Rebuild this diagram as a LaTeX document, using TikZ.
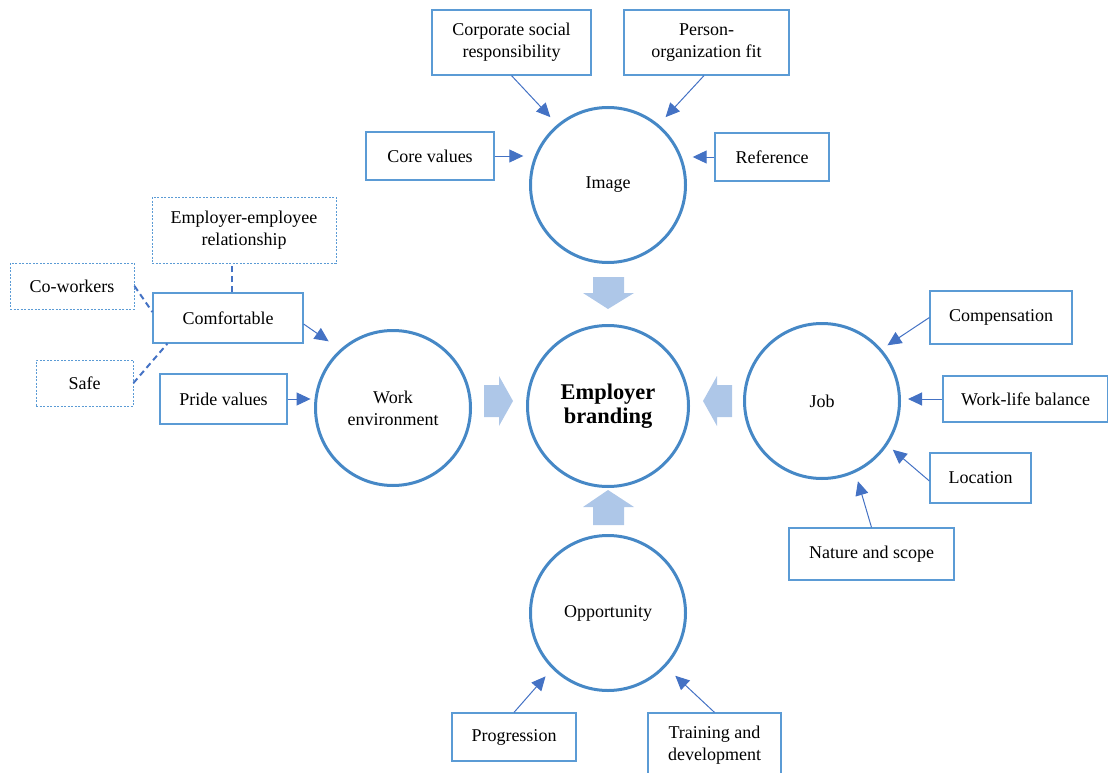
\documentclass[tikz,border=0pt]{standalone}
\usepackage{fontspec}
\setmainfont{Liberation Serif}
\usetikzlibrary{arrows.meta}
\definecolor{circ}{RGB}{70,136,198}
\definecolor{boxc}{RGB}{91,155,213}
\definecolor{arrc}{RGB}{68,114,196}
\definecolor{blk}{RGB}{174,199,232}
\tikzset{
  every node/.style={font=\fontsize{18}{22}\selectfont},
  box/.style={draw=boxc, line width=1.2pt, rectangle, inner sep=0pt, align=center},
  dbox/.style={box, line width=0.9pt, dash pattern=on 2pt off 1.5pt},
  bigc/.style={draw=circ, line width=3pt, circle, inner sep=0pt, minimum size=155pt, align=center},
  arr/.style={draw=arrc, line width=1pt, -{Triangle[length=14pt,width=13pt]}},
  dline/.style={draw=arrc, line width=2pt, dash pattern=on 6pt off 4pt},
  blkarrow/.style={fill=blk, draw=none}
}
\begin{document}
\begin{tikzpicture}[x=1pt,y=-1pt]
\useasboundingbox (0,0) rectangle (1108,773);
% circles
\node[bigc] (img) at (608,185) {Image};
\node[bigc, minimum size=161pt, font=\bfseries\fontsize{22.4}{23.5}\selectfont] (eb) at (608,406) {Employer\\branding};
\node[bigc] (we) at (393,408) {Work\\environment};
\node[bigc] (job) at (822,401) {Job};
\node[bigc] (opp) at (608,613) {Opportunity};
% boxes
\node[box, minimum width=159pt, minimum height=65pt] (corp) at (511.5,42.5) {Corporate social\\responsibility};
\node[box, minimum width=165pt, minimum height=65pt] (pers) at (706.5,42.5) {Person-\\organization fit};
\node[box, minimum width=128pt, minimum height=48pt] (core) at (430,156) {Core values};
\node[box, minimum width=114pt, minimum height=48pt] (ref) at (772,157) {Reference};
\node[dbox, minimum width=184pt, minimum height=66pt] (ee) at (244,230) {Employer-employee\\relationship};
\node[dbox, minimum width=124pt, minimum height=46pt] (cow) at (72,286) {Co-workers};
\node[box, minimum width=150pt, minimum height=50pt] (comf) at (228,318) {Comfortable};
\node[dbox, minimum width=97pt, minimum height=46pt] (safe) at (84.5,383) {Safe};
\node[box, minimum width=127pt, minimum height=50pt] (pride) at (223.5,399) {Pride values};
\node[box, minimum width=142pt, minimum height=53pt] (comp) at (1001,317.5) {Compensation};
\node[box, minimum width=165pt, minimum height=46pt] (wlb) at (1025.5,399) {Work-life balance};
\node[box, minimum width=101pt, minimum height=50pt] (loc) at (980.5,478) {Location};
\node[box, minimum width=165pt, minimum height=52pt] (nat) at (871.5,554) {Nature and scope};
\node[box, minimum width=124pt, minimum height=48pt] (prog) at (514,737) {Progression};
\node[box, minimum width=133pt, minimum height=64pt] (train) at (714.5,745) {Training and\\development};
% arrows to Image
\draw[arr, shorten >=10pt] (corp.south) -- (img.130.5);
\draw[arr, shorten >=10pt] ([xshift=-2.5pt]pers.south) -- (img.50);
\draw[arr, shorten >=10pt] (core.east) -- (core.east -| img.161);
\draw[arr, shorten >=10pt] (ref.west) -- (ref.west -| img.19);
% arrows to Work environment
\draw[arr, shorten >=14pt] ([yshift=-6pt]comf.east) -- (we.132);
\draw[arr, shorten >=4pt] (pride.east) -- (pride.east -| we.173);
% dashed
\draw[dline] ([xshift=4pt]comf.north) -- ([xshift=4pt]comf.north |- ee.south);
\draw[dline] (cow.east) -- ([yshift=6pt]comf.west);
\draw[dline] (safe.east) -- ([xshift=15pt]comf.south west);
% arrows to Job
\draw[arr, shorten >=7pt] (comp.west) -- (job.41);
\draw[arr, shorten >=7pt] (wlb.west) -- (wlb.west -| job.east);
\draw[arr, shorten >=7pt] ([yshift=-3pt]loc.west) -- (job.-34);
\draw[arr, shorten >=9pt] (nat.north) -- (job.-65);
% arrows to Opportunity
\draw[arr, shorten >=10pt] (prog.north) -- (opp.-135.5);
\draw[arr, shorten >=13pt] (train.north) -- (opp.-43);
% block arrows
\fill[blkarrow] (593,277) -- (624,277) -- (624,293) -- (634,293) -- (608,309) -- (583,293) -- (593,293) -- cycle;
\fill[blkarrow] (484,385) -- (499,385) -- (499,376) -- (513,401) -- (499,426) -- (499,417) -- (484,417) -- cycle;
\fill[blkarrow] (732,385) -- (717,385) -- (717,376) -- (703,401) -- (717,426) -- (717,417) -- (732,417) -- cycle;
\fill[blkarrow] (593,525) -- (624,525) -- (624,507) -- (634,507) -- (608,490) -- (583,507) -- (593,507) -- cycle;
\end{tikzpicture}
\end{document}
